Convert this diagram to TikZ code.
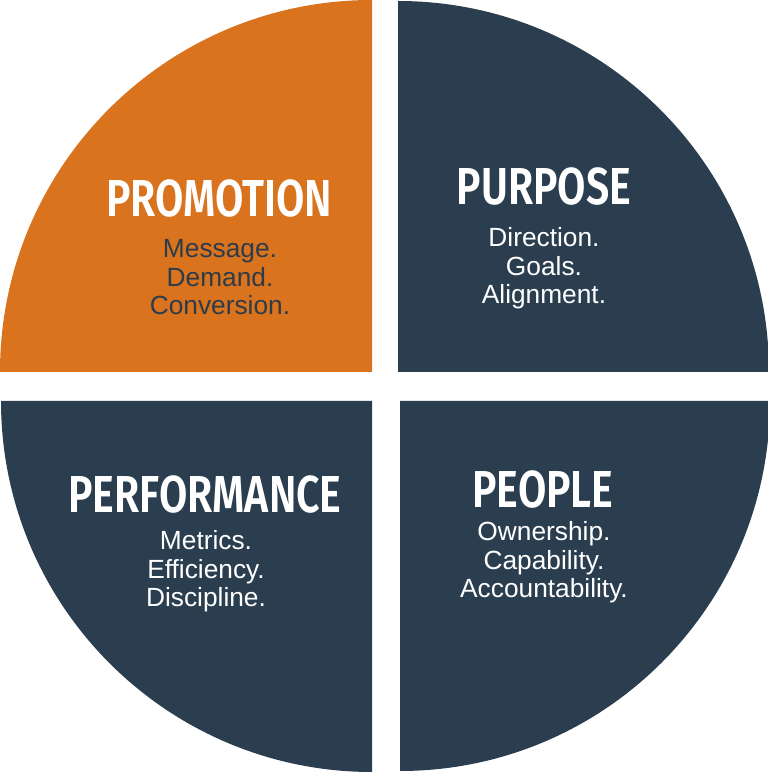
\documentclass[tikz,border=0pt]{standalone}
\usepackage{fontspec}
\setmainfont{Liberation Sans}
\newfontfamily\titlefont{Fira Sans SemiBold}[FakeStretch=0.79]
\definecolor{orangeq}{HTML}{D9731E}
\definecolor{navyq}{HTML}{2B3E50}
\definecolor{subdark}{HTML}{2E3B48}
\begin{document}
\begin{tikzpicture}[x=1pt,y=1pt,
  title/.style={anchor=base,inner sep=0pt,text=white,font=\titlefont\fontsize{52}{52}\selectfont},
  sub/.style={anchor=base,inner sep=0pt,font=\fontsize{26.3}{28.5}\selectfont},
  subw/.style={sub,text=white},
  subd/.style={sub,text=subdark}]
\useasboundingbox (0,0) rectangle (768,772);
% quadrants
\fill[orangeq] (372,400) -- ++(-372,0) arc[start angle=180,end angle=90,radius=372] -- cycle;
\fill[navyq] (398,400) -- ++(0,371) arc[start angle=90,end angle=0,radius=371] -- cycle;
\fill[navyq] (372,371) -- ++(0,-371) arc[start angle=270,end angle=180,radius=371] -- cycle;
\fill[navyq] (400,371) -- ++(370,0) arc[start angle=0,end angle=-90,radius=370] -- cycle;
% PROMOTION
\node[title] (t1) at (219,555) {PROMOTION};
\node[subd] (s11) at (220,514) {Message.};
\node[subd] (s12) at (220,485.5) {Demand.};
\node[subd] (s13) at (220,457) {Conversion.};
% PURPOSE
\node[title] (t2) at (544,567) {PURPOSE};
\node[subw] (s21) at (544,525) {Direction.};
\node[subw] (s22) at (544,496.5) {Goals.};
\node[subw] (s23) at (544,468) {Alignment.};
% PERFORMANCE
\node[title] (t3) at (205,259) {PERFORMANCE};
\node[subw] (s31) at (206,222) {Metrics.};
\node[subw] (s32) at (206,193.5) {Efficiency.};
\node[subw] (s33) at (206,165) {Discipline.};
% PEOPLE
\node[title] (t4) at (543,264) {PEOPLE};
\node[subw] (s41) at (544,231) {Ownership.};
\node[subw] (s42) at (544,202.5) {Capability.};
\node[subw] (s43) at (544,174) {Accountability.};
\end{tikzpicture}
\end{document}
